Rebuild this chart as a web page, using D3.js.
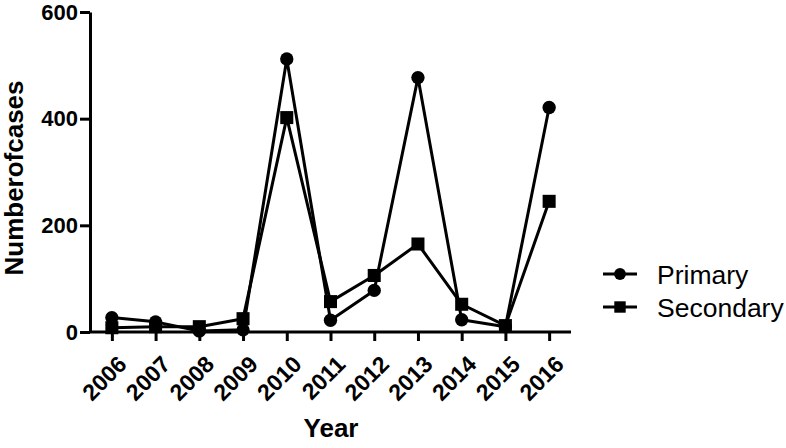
<!DOCTYPE html>
<html>
<head>
<meta charset="utf-8">
<script src="https://cdn.jsdelivr.net/npm/d3@7"></script>
<style>
body { margin: 0; background: #fff; }
svg text { font-family: Arial, "Liberation Sans", sans-serif; fill: #000; }
</style>
</head>
<body>
<svg id="chart" width="786" height="448"></svg>
<script>
let years = ["2006", "2007", "2008", "2009", "2010", "2011", "2012", "2013", "2014", "2015", "2016"];
let primary = [27, 19, 2, 4, 512, 22, 78, 477, 23, 10, 421];
let secondary = [8, 10, 10, 25, 402, 57, 106, 165, 52, 12, 245];
let yTicks = [0, 200, 400, 600];
let seriesNames = ["Primary", "Secondary"];

let svg = d3.select("#chart");

let x = d3.scalePoint().domain(years).range([90, 571]).padding(0.5);
let y = d3.scaleLinear().domain([0, 600]).range([332, 12]);

// x axis
let xAxis = svg.append("g").attr("transform", "translate(0," + y(0) + ")")
	.call(d3.axisBottom(x).tickSize(9).tickSizeOuter(0));
xAxis.select(".domain").attr("stroke-width", 3).attr("d", "M90,0H571");
xAxis.selectAll(".tick line").attr("stroke-width", 3);
xAxis.selectAll(".tick text")
	.attr("font-size", 23).attr("font-weight", "bold")
	.attr("text-anchor", "end")
	.attr("transform", "translate(10,28) rotate(-45)")
	.attr("dy", "0.35em").attr("y", 0).attr("x", 0);

// y axis
let yAxis = svg.append("g").attr("transform", "translate(90,0)")
	.call(d3.axisLeft(y).tickValues(yTicks).tickSize(10).tickSizeOuter(0));
yAxis.select(".domain").attr("stroke-width", 3);
yAxis.selectAll(".tick line").attr("stroke-width", 3);
yAxis.selectAll(".tick text").attr("font-size", 22).attr("font-weight", "bold").attr("x", -12);

// titles
svg.append("text").attr("transform", "translate(23,178) rotate(-90)")
	.attr("text-anchor", "middle").attr("font-size", 26).attr("font-weight", "bold").text("Numberofcases");
svg.append("text").attr("x", 331).attr("y", 437)
	.attr("text-anchor", "middle").attr("font-size", 26).attr("font-weight", "bold").text("Year");

let line = d3.line().x(function(d, i) { return x(years[i]); }).y(function(d) { return y(d); });

function drawSeries(values, shape)
{
	svg.append("path").datum(values).attr("d", line)
		.attr("fill", "none").attr("stroke", "#000").attr("stroke-width", 3).attr("stroke-linejoin", "round");
	let sym = d3.symbol().type(shape).size(shape === d3.symbolCircle ? 140 : 170);
	svg.selectAll(null).data(values).enter().append("path")
		.attr("d", sym)
		.attr("transform", function(d, i) { return "translate(" + x(years[i]) + "," + y(d) + ")"; })
		.attr("fill", "#000");
}

drawSeries(primary, d3.symbolCircle);
drawSeries(secondary, d3.symbolSquare);

// legend
let shapes = [d3.symbolCircle, d3.symbolSquare];
let legend = svg.selectAll(".legend").data(seriesNames).enter().append("g")
	.attr("class", "legend")
	.attr("transform", function(d, i) { return "translate(620," + (274 + i * 33) + ")"; });
legend.append("line").attr("x1", -17).attr("x2", 17).attr("stroke", "#000").attr("stroke-width", 3);
legend.append("path").attr("d", function(d, i) { return d3.symbol().type(shapes[i]).size(i === 0 ? 110 : 130)(); }).attr("fill", "#000");
legend.append("text").attr("x", 37).attr("dy", "0.36em").attr("font-size", 26.5).text(function(d) { return d; });
</script>
</body>
</html>
